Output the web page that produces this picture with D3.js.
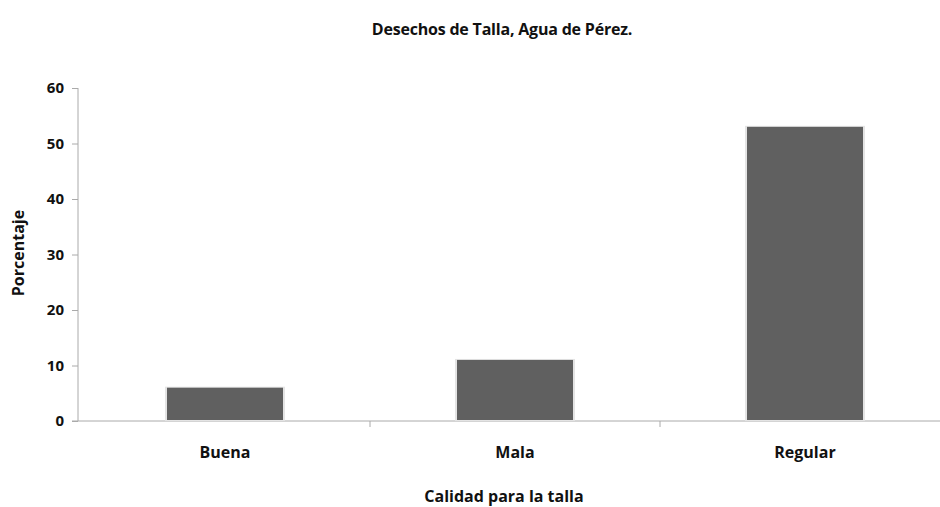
<!DOCTYPE html>
<html><head><meta charset="utf-8">
<script src="https://cdn.jsdelivr.net/npm/d3@7"></script>
<style>body{margin:0;background:#fff}svg{display:block}text{font-family:"Open Sans",Lato,sans-serif;font-weight:bold;fill:#111}</style>
</head><body>
<script>
const categories = ["Buena", "Mala", "Regular"];
const values = [6, 11, 53];
const yTicks = [0, 10, 20, 30, 40, 50, 60];
const title = "Desechos de Talla, Agua de Pérez.";
const xTitle = "Calidad para la talla";
const yTitle = "Porcentaje";

const W = 940, H = 507;
const svg = d3.select("body").append("svg").attr("width", W).attr("height", H);
const x = d3.scaleBand().domain(categories).range([80, 950]).padding(0);
const y = d3.scaleLinear().domain([0, 60]).range([421, 88]);

svg.append("text").attr("x", 502).attr("y", 35).attr("text-anchor", "middle").style("font-size", "16px").style("letter-spacing", "-0.2px").text(title);

// y axis
const ya = svg.append("g").attr("transform", "translate(78,0)")
  .call(d3.axisLeft(y).tickValues(yTicks).tickSize(6).tickPadding(8));
ya.select(".domain").attr("stroke", "#aaa").attr("d", `M0,${y(60)}V${y(0)}`);
ya.selectAll(".tick line").attr("stroke", "#aaa");
ya.selectAll(".tick text").style("font-size", "15px").style("font-family", "'Open Sans',sans-serif").style("font-weight", "bold").attr("fill", "#111");

// x axis
const xa = svg.append("g").attr("transform", `translate(0,${y(0)})`);
xa.append("line").attr("x1", 72).attr("x2", W).attr("y1", 0).attr("y2", 0).attr("stroke", "#aaa");
categories.slice(1).forEach(c => {
  xa.append("line").attr("x1", x(c)).attr("x2", x(c)).attr("y1", 0).attr("y2", 6).attr("stroke", "#aaa");
});
categories.forEach(c => {
  xa.append("text").attr("x", x(c) + x.bandwidth() / 2).attr("y", 37).attr("text-anchor", "middle").style("font-size", "16px").text(c);
});

// bars
const bw = x.bandwidth() * 0.4;
const g = svg.append("g");
g.selectAll("rect.sh").data(categories).join("rect")
  .attr("x", c => x(c) + x.bandwidth() / 2 - bw / 2 - 2)
  .attr("y", (c, i) => y(values[i]) - 1)
  .attr("width", bw + 4)
  .attr("height", (c, i) => y(0) - y(values[i]) + 1)
  .attr("fill", "#e4e4e4");
g.selectAll("rect.bar").data(categories).join("rect")
  .attr("x", c => x(c) + x.bandwidth() / 2 - bw / 2)
  .attr("y", (c, i) => y(values[i]))
  .attr("width", bw)
  .attr("height", (c, i) => y(0) - y(values[i]) - 1)
  .attr("fill", "#606060");

svg.append("text").attr("x", 504).attr("y", 502).attr("text-anchor", "middle").style("font-size", "16px").text(xTitle);
svg.append("text").attr("transform", `translate(24,253) rotate(-90)`).attr("text-anchor", "middle").style("font-size", "16px").text(yTitle);
</script>
</body></html>
